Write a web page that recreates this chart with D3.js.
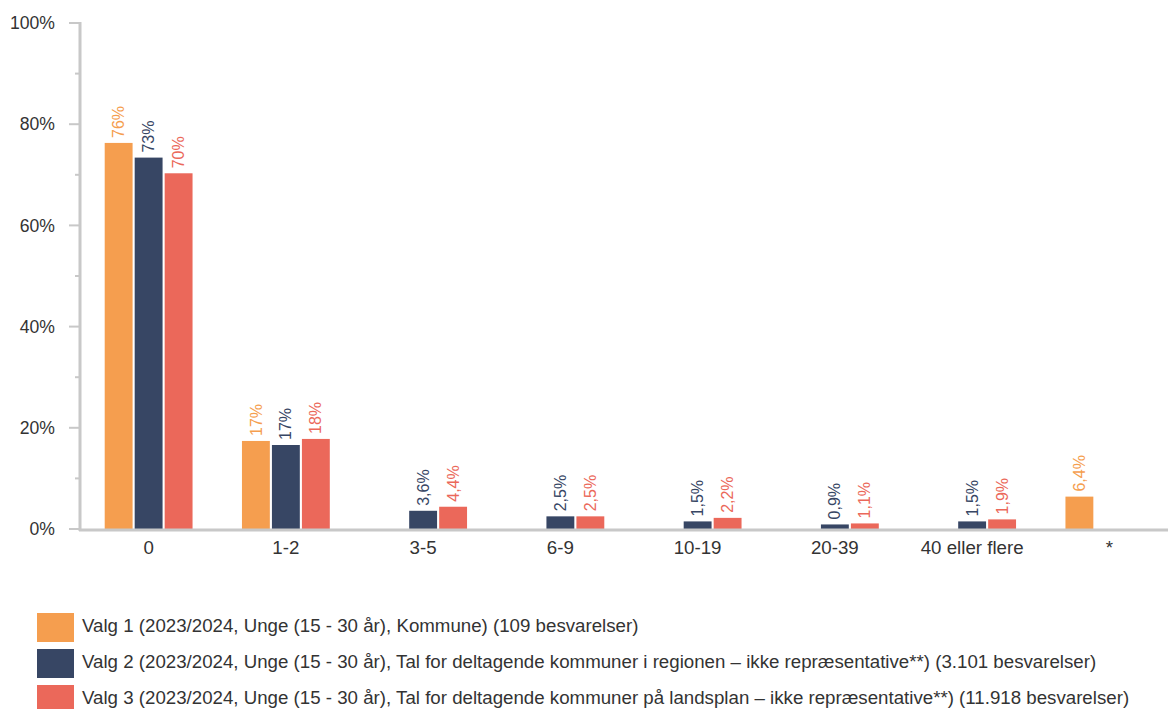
<!DOCTYPE html>
<html lang="da">
<head>
<meta charset="UTF-8">
<title>Unge (15 - 30 år)</title>
<script src="https://cdnjs.cloudflare.com/ajax/libs/d3/7.8.5/d3.min.js"></script>
<style>
  body { margin: 0; background: #fff; font-family: "Liberation Sans", Arial, sans-serif; }
</style>
</head>
<body>
<div id="chart"></div>
<script>
const categories = ["0", "1-2", "3-5", "6-9", "10-19", "20-39", "40 eller flere", "*"];
const seriesNames = [
  "Valg 1 (2023/2024, Unge (15 - 30 år), Kommune) (109 besvarelser)",
  "Valg 2 (2023/2024, Unge (15 - 30 år), Tal for deltagende kommuner i regionen – ikke repræsentative**) (3.101 besvarelser)",
  "Valg 3 (2023/2024, Unge (15 - 30 år), Tal for deltagende kommuner på landsplan – ikke repræsentative**) (11.918 besvarelser)"
];
// null = no bar in that category
const valg1 = [76.3, 17.4, null, null, null, null, null, 6.4];
const valg2 = [73.4, 16.6, 3.6, 2.5, 1.5, 0.9, 1.5, null];
const valg3 = [70.3, 17.8, 4.4, 2.5, 2.2, 1.1, 1.9, null];
const barLabels1 = ["76%", "17%", "", "", "", "", "", "6,4%"];
const barLabels2 = ["73%", "17%", "3,6%", "2,5%", "1,5%", "0,9%", "1,5%", ""];
const barLabels3 = ["70%", "18%", "4,4%", "2,5%", "2,2%", "1,1%", "1,9%", ""];
const colors = ["#F59E4F", "#374664", "#EB685A"];
const yTicks = [0, 20, 40, 60, 80, 100];

const width = 1168, height = 709;
const margin = { top: 23, left: 80, bottom: 180 };

const series = [valg1, valg2, valg3].map((vals, s) => ({
  key: "s" + s,
  color: colors[s],
  labels: [barLabels1, barLabels2, barLabels3][s],
  values: vals
}));

const svg = d3.select("#chart").append("svg")
  .attr("width", width)
  .attr("height", height)
  .style("font-family", "'Liberation Sans', Arial, sans-serif");

const x = d3.scaleBand(categories, [margin.left, 1178]).paddingInner(0.36).paddingOuter(0.18);
const xs = d3.scaleBand(series.map(d => d.key), [0, x.bandwidth()]).paddingInner(0.07);
const y = d3.scaleLinear([0, 100], [529, margin.top]);

// y axis: minor ticks every 10%
svg.append("g")
  .selectAll("line")
  .data(d3.range(0, 101, 10))
  .join("line")
  .attr("x1", d => d % 20 === 0 ? 69 : 75)
  .attr("x2", margin.left)
  .attr("y1", d => y(d))
  .attr("y2", d => y(d))
  .attr("stroke", "#c8c8c8")
  .attr("stroke-width", 2);

svg.append("line")
  .attr("x1", margin.left).attr("x2", margin.left)
  .attr("y1", y(100) - 1).attr("y2", y(0) + 2)
  .attr("stroke", "#c8c8c8").attr("stroke-width", 3);

svg.append("g")
  .selectAll("text")
  .data(yTicks)
  .join("text")
  .attr("x", 55)
  .attr("y", d => y(d))
  .attr("dy", "0.35em")
  .attr("text-anchor", "end")
  .attr("fill", "#333")
  .attr("font-size", 17.6)
  .text(d => d + "%");

// bars
const groups = svg.append("g")
  .selectAll("g")
  .data(series)
  .join("g")
  .attr("fill", d => d.color);

groups.selectAll("rect")
  .data(s => s.values.map((v, i) => ({ key: s.key, cat: categories[i], v })).filter(d => d.v != null))
  .join("rect")
  .attr("x", d => x(d.cat) + xs(d.key))
  .attr("width", xs.bandwidth())
  .attr("y", d => y(d.v))
  .attr("height", d => y(0) - y(d.v));

groups.selectAll("text")
  .data(s => s.values.map((v, i) => ({ key: s.key, cat: categories[i], v, label: s.labels[i] })).filter(d => d.v != null))
  .join("text")
  .attr("transform", d => `translate(${x(d.cat) + xs(d.key) + xs.bandwidth() / 2},${y(d.v) - 5}) rotate(-90)`)
  .attr("dy", "0.35em")
  .attr("font-size", 16)
  .text(d => d.label);

// x axis line
svg.append("line")
  .attr("x1", margin.left - 1).attr("x2", width)
  .attr("y1", y(0) + 1).attr("y2", y(0) + 1)
  .attr("stroke", "#c8c8c8").attr("stroke-width", 3);

svg.append("g")
  .selectAll("text")
  .data(categories)
  .join("text")
  .attr("x", d => x(d) + x.bandwidth() / 2)
  .attr("y", 554)
  .attr("text-anchor", "middle")
  .attr("fill", "#333")
  .attr("font-size", 18.7)
  .text(d => d);

// legend
const legend = svg.append("g")
  .selectAll("g")
  .data(series)
  .join("g")
  .attr("transform", (d, i) => `translate(37,${613 + i * 36})`);

legend.append("rect")
  .attr("width", 37)
  .attr("height", 29)
  .attr("fill", d => d.color);

legend.append("text")
  .attr("x", 45)
  .attr("y", 19)
  .attr("fill", "#333")
  .attr("font-size", 18.7)
  .text((d, i) => seriesNames[i]);
</script>
</body>
</html>
